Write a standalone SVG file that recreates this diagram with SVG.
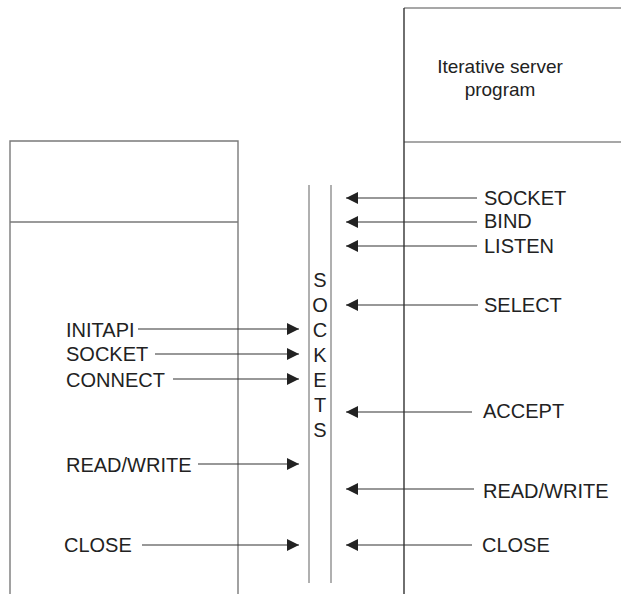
<svg xmlns="http://www.w3.org/2000/svg" width="621" height="594" viewBox="0 0 621 594">
<style>
text{font-family:"Liberation Sans",Arial,sans-serif;font-size:20px;fill:#222}
.title{font-size:19px}
.box{stroke:#7a7a7a;stroke-width:1.4;fill:none}
.sock{stroke:#8f8f8f;stroke-width:1.4;fill:none}
.ar{stroke:#333;stroke-width:1.1;fill:none;marker-end:url(#ah)}
</style>
<defs>
<marker id="ah" markerUnits="userSpaceOnUse" markerWidth="12" markerHeight="12" viewBox="0 0 12 12" refX="12" refY="6" orient="auto">
<path d="M0,0 L12,6 L0,12 Z" fill="#222"/>
</marker>
</defs>
<g id="client">
<path class="box" d="M10,594 V141 H238 V594 M10,222 H238"/>
</g>
<g id="server">
<path d="M404,8 H621 M404,142 H621" stroke="#8a8a8a" stroke-width="1.4" fill="none"/>
<path d="M404,8 V594" stroke="#333" stroke-width="1.4" fill="none"/>
<text class="title" x="500" y="73" text-anchor="middle">Iterative server</text>
<text class="title" x="500" y="96" text-anchor="middle">program</text>
</g>
<g id="sockets">
<path class="sock" d="M309,185 V583 M331,185 V583"/>
<text x="320" y="287" text-anchor="middle">S</text>
<text x="320" y="312" text-anchor="middle">O</text>
<text x="320" y="337" text-anchor="middle">C</text>
<text x="320" y="362" text-anchor="middle">K</text>
<text x="320" y="387" text-anchor="middle">E</text>
<text x="320" y="412" text-anchor="middle">T</text>
<text x="320" y="437" text-anchor="middle">S</text>
</g>
<g id="client-calls">
<text x="66" y="337">INITAPI</text>
<text x="66" y="361">SOCKET</text>
<text x="66" y="387">CONNECT</text>
<text x="66" y="472">READ/WRITE</text>
<text x="64" y="552">CLOSE</text>
</g>
<g id="server-calls">
<text x="484" y="205">SOCKET</text>
<text x="484" y="228">BIND</text>
<text x="484" y="253">LISTEN</text>
<text x="484" y="312">SELECT</text>
<text x="483" y="418">ACCEPT</text>
<text x="483" y="498">READ/WRITE</text>
<text x="482" y="552">CLOSE</text>
</g>
<g id="connectors">
<line class="ar" x1="138" y1="329" x2="299" y2="329"/>
<line class="ar" x1="155" y1="354" x2="299" y2="354"/>
<line class="ar" x1="173" y1="379" x2="299" y2="379"/>
<line class="ar" x1="198" y1="464" x2="299" y2="464"/>
<line class="ar" x1="142" y1="545" x2="299" y2="545"/>
<line class="ar" x1="477" y1="198" x2="346" y2="198"/>
<line class="ar" x1="477" y1="222" x2="346" y2="222"/>
<line class="ar" x1="477" y1="246" x2="346" y2="246"/>
<line class="ar" x1="478" y1="305" x2="346" y2="305"/>
<line class="ar" x1="472" y1="412" x2="346" y2="412"/>
<line class="ar" x1="474" y1="489" x2="346" y2="489"/>
<line class="ar" x1="472" y1="545" x2="346" y2="545"/>
</g>
</svg>
